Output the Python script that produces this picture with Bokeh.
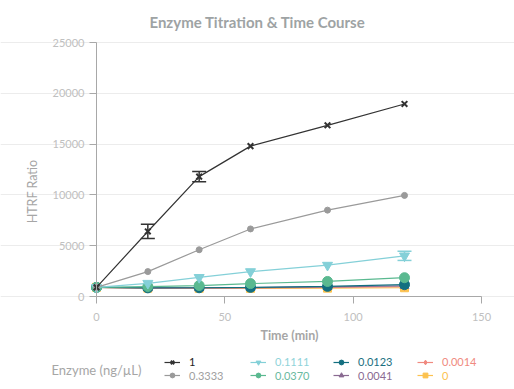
from bokeh.plotting import figure
from bokeh.models import (Legend, LegendItem, Label, Whisker, ColumnDataSource,
                          FixedTicker, Range1d)
from bokeh.embed import file_html
from bokeh.resources import INLINE
import math

FONT = "Lato"

time = [0, 20, 40, 60, 90, 120]
labels = ["1", "0.3333", "0.1111", "0.0370", "0.0123", "0.0041", "0.0014", "0"]
s_1 = [900, 6400, 11800, 14800, 16850, 18950]
s_0_3333 = [900, 2450, 4600, 6650, 8500, 9950]
s_0_1111 = [900, 1300, 1880, 2450, 3080, 4000]
s_0_0370 = [900, 980, 1080, 1270, 1480, 1850]
s_0_0123 = [900, 850, 860, 900, 1000, 1170]
s_0_0041 = [900, 840, 840, 870, 940, 1050]
s_0_0014 = [900, 830, 820, 850, 900, 960]
s_0 = [900, 820, 800, 800, 820, 860]
series = [s_1, s_0_3333, s_0_1111, s_0_0370, s_0_0123, s_0_0041, s_0_0014, s_0]
err_1 = [0, 700, 500, 0, 0, 0]
err_0_1111 = [0, 0, 0, 0, 0, 450]

colors = ["#333333", "#9a9a9a", "#84d0d8", "#5ab990", "#136f80", "#8a6b92", "#f08a80", "#fcc24f"]
label_colors = ["#222222", "#a0a0a0", "#8fd3da", "#6ab9a0", "#1a6f80", "#8a6b92", "#f08a80", "#fcc24f"]
markers = ["x", "circle", "inverted_triangle", "circle", "circle", "triangle", "diamond", "square"]
msizes = [8, 6, 10, 10, 10, 9, 7, 8]

x_ticks = [0, 50, 100, 150]
y_ticks = [0, 5000, 10000, 15000, 20000, 25000]
x_lim = (0, 150)
y_lim = (0, 25000)

# layout (pixels inside the figure)
W, H = 514, 389
ax_left, ax_right = 96, 481      # x = 0 .. 150
ax_top, ax_bottom = 42, 296      # y = 25000 .. 0
kx = (ax_right - ax_left) / (x_lim[1] - x_lim[0])
ky = (ax_bottom - ax_top) / (y_lim[1] - y_lim[0])
xr = Range1d(x_lim[0] - ax_left / kx, x_lim[1] + (W - ax_right) / kx)
yr = Range1d(y_lim[0] - (H - ax_bottom) / ky, y_lim[1] + ax_top / ky)

p = figure(width=W, height=H, output_backend="svg", toolbar_location=None,
           x_range=xr, y_range=yr, min_border=0)
p.outline_line_color = None
p.title.visible = False

p.xgrid.grid_line_color = None
p.ygrid.grid_line_color = "#ececec"
p.ygrid.ticker = FixedTicker(ticks=y_ticks)
p.ygrid.bounds = x_lim

for ax in (p.xaxis[0], p.yaxis[0]):
    ax.axis_line_color = "#a8a8a8"
    ax.major_tick_line_color = "#a8a8a8"
    ax.minor_tick_line_color = None
    ax.major_tick_out = 7
    ax.major_tick_in = 0
    ax.major_label_text_color = "#c0c0c0"
    ax.major_label_text_font = FONT
    ax.major_label_text_font_size = "11px"
    ax.fixed_location = 0
p.xaxis.ticker = FixedTicker(ticks=x_ticks)
p.yaxis.ticker = FixedTicker(ticks=y_ticks)
p.xaxis.bounds = x_lim
p.yaxis.bounds = y_lim
p.xaxis.major_label_standoff = 9
p.yaxis.major_label_standoff = 5


def lab(text, x, y, size, color, style="normal", angle=0, align="center"):
    p.add_layout(Label(x=x, y=H - y, x_units="screen", y_units="screen", text=text,
                       angle=angle, text_align=align, text_baseline="middle",
                       text_font=FONT, text_font_size=size, text_font_style=style,
                       text_color=color))


lab("Enzyme Titration & Time Course", 257, 21, "15px", "#9ea3a4", "bold")
lab("HTRF Ratio", 32, 191, "12.5px", "#a6a6a6", angle=math.pi / 2)
lab("Time (min)", 289, 335, "12.5px", "#a6a6a6", "bold")
lab("Enzyme (ng/µL)", 51, 369, "13px", "#a6a6a6", align="left")

# draw lowest concentration first so the highest ends on top
renderers = [None] * len(series)
for idx in reversed(range(len(series))):
    ys, c, m, ms = series[idx], colors[idx], markers[idx], msizes[idx]
    src = ColumnDataSource(dict(x=time, y=ys))
    lr = p.line("x", "y", source=src, line_color=c, line_width=1.2)
    if m == "x":
        sr = p.scatter("x", "y", source=src, marker=m, size=ms, line_color=c, line_width=2)
    else:
        sr = p.scatter("x", "y", source=src, marker=m, size=ms, fill_color=c, line_color=c)
    renderers[idx] = (lr, sr)

for ys, err, c in ((s_1, err_1, colors[0]), (s_0_1111, err_0_1111, colors[2])):
    xs = [t for t, e in zip(time, err) if e > 0]
    lo = [y - e for y, e in zip(ys, err) if e > 0]
    hi = [y + e for y, e in zip(ys, err) if e > 0]
    wsrc = ColumnDataSource(dict(x=xs, lo=lo, hi=hi))
    w = Whisker(base="x", lower="lo", upper="hi", source=wsrc, line_color=c, line_width=1.5)
    for head in (w.upper_head, w.lower_head):
        head.size = 14
        head.line_color = c
        head.line_width = 1.5
    p.add_layout(w)

col_x = [164, 250, 333, 417]
row_cy = [362, 375.5]
for i, (text, c, (lr, sr)) in enumerate(zip(labels, label_colors, renderers)):
    col, row = i // 2, i % 2
    lg = Legend(items=[LegendItem(label=text, renderers=[lr, sr])],
                location=(col_x[col], H - row_cy[row] - 6), padding=0, margin=0, spacing=0,
                glyph_width=16, glyph_height=12, label_height=12, label_standoff=9,
                label_text_font=FONT, label_text_font_size="11px", label_text_color=c,
                label_text_baseline="middle",
                background_fill_alpha=0, border_line_alpha=0)
    p.add_layout(lg)

open("out.html", "w").write(file_html(p, INLINE))
